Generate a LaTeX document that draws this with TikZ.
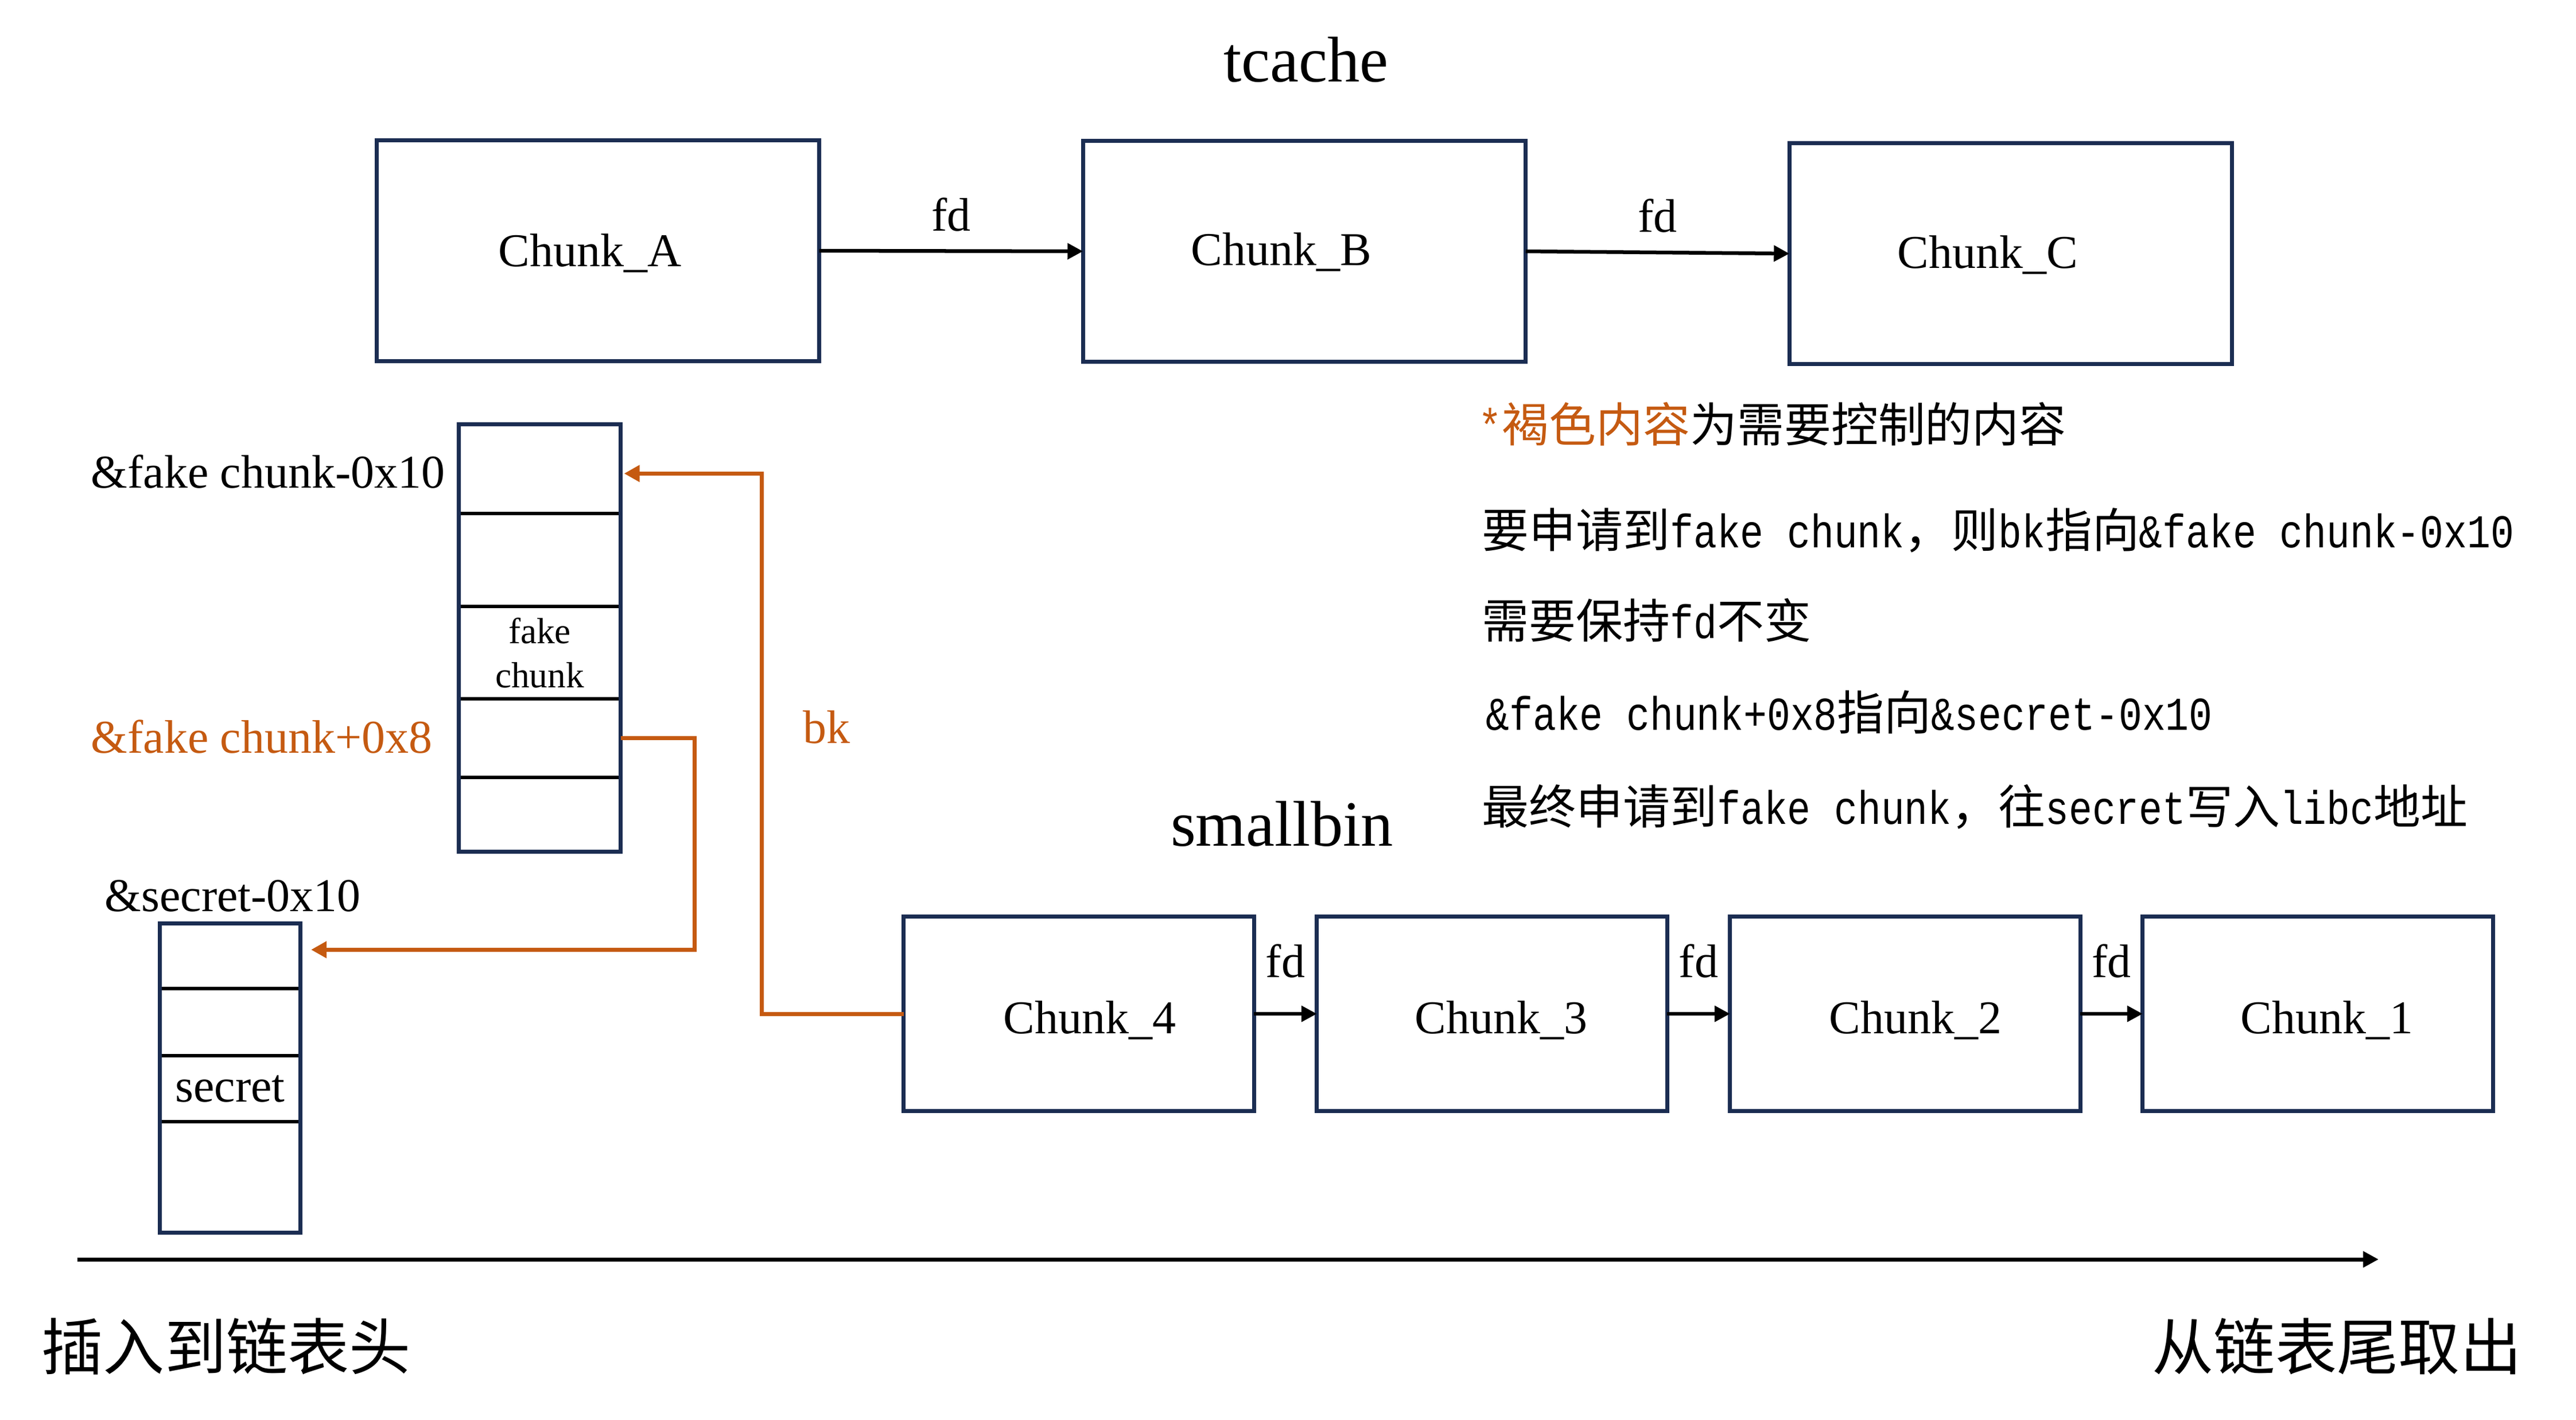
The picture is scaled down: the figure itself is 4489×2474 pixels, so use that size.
\documentclass[tikz,border=0pt]{standalone}
\usepackage{fontspec}
\setmainfont{Liberation Serif}
\newfontfamily\cjk{Noto Sans CJK SC}
\newfontfamily\hw{Liberation Mono}[FakeStretch=0.83]
\usetikzlibrary{arrows.meta,fit}
\definecolor{navy}{HTML}{1B2D52}
\definecolor{brn}{HTML}{C55A11}
\begin{document}
\begin{tikzpicture}[x=0.01cm,y=-0.01cm,
  lbl/.style={font=\fontsize{23.3}{28}\selectfont, inner sep=0},
  ttl/.style={font=\fontsize{32}{38}\selectfont, inner sep=0},
  chunkbox/.style={draw=navy, line width=0.07cm, inner sep=0, outer sep=0},
  bigchunk/.style={chunkbox, minimum width=7.71cm, minimum height=3.85cm},
  smallchunk/.style={chunkbox, minimum width=6.10cm, minimum height=3.38cm},
  chunktext/.style={lbl, anchor=base},
  cellA/.style={draw=black, line width=0.06cm, inner sep=0, outer sep=0, minimum width=2.82cm, anchor=north},
  cellS/.style={draw=black, line width=0.06cm, inner sep=0, outer sep=0, minimum width=2.45cm, anchor=north},
  framebox/.style={draw=navy, line width=0.07cm, inner sep=0, outer sep=0},
  arr/.style={line width=0.065cm, -{Triangle[length=0.27cm,width=0.27cm]}},
  oarr/.style={draw=brn, line width=0.07cm, -{Triangle[length=0.27cm,width=0.28cm]}},
  rt/.style={font=\cjk\fontsize{23.3}{28}\selectfont, anchor=west, inner sep=0},
  bt/.style={font=\cjk\fontsize{30.5}{36}\selectfont, anchor=west, inner sep=0},
  fdl/.style={lbl, midway, above=0.31cm}
]
\useasboundingbox (0,0) rectangle (4489,2474);

% titles
\node[ttl, anchor=base] (tcache) at (2276,142) {tcache};
\node[ttl, anchor=base] (smallbin) at (2234,1474) {smallbin};

% tcache chunks
\node[bigchunk] (A) at (1042,437) {};
\node[bigchunk] (B) at (2273,438) {};
\node[bigchunk] (C) at (3504,442) {};
\node[chunktext] (At) at (1028,464) {Chunk\_A};
\node[chunktext] (Bt) at (2233,462) {Chunk\_B};
\node[chunktext] (Ct) at (3464,467) {Chunk\_C};
\draw[arr] (A.east) -- node[fdl]{fd} (B.west);
\draw[arr] (B.east) -- node[fdl]{fd} (C.west);

% smallbin chunks
\node[smallchunk] (C4) at (1880,1767) {};
\node[smallchunk] (C3) at (2600,1767) {};
\node[smallchunk] (C2) at (3320,1767) {};
\node[smallchunk] (C1) at (4039,1767) {};
\node[chunktext] (C4t) at (1899,1801) {Chunk\_4};
\node[chunktext] (C3t) at (2616,1801) {Chunk\_3};
\node[chunktext] (C2t) at (3338,1801) {Chunk\_2};
\node[chunktext] (C1t) at (4055,1801) {Chunk\_1};
\draw[arr] (C4.east) -- node[fdl, above=0.28cm]{fd} (C3.west);
\draw[arr] (C3.east) -- node[fdl, above=0.28cm]{fd} (C2.west);
\draw[arr] (C2.east) -- node[fdl, above=0.28cm]{fd} (C1.west);

% fake chunk stack
\node[cellA, minimum height=1.555cm] (c0) at (940.5,739.5) {};
\node[cellA, minimum height=1.62cm] (c1) at (c0.south) {};
\node[cellA, minimum height=1.61cm, align=center, font=\fontsize{18}{21.9}\selectfont] (c2) at (c1.south) {fake\\chunk};
\node[cellA, minimum height=1.37cm] (c3) at (c2.south) {};
\node[cellA, minimum height=1.295cm] (c4) at (c3.south) {};
\node[framebox, fit=(c0)(c4)] (fakestack) {};

% secret stack
\node[cellS, minimum height=1.135cm] (s0) at (401,1609.5) {};
\node[cellS, minimum height=1.17cm] (s1) at (s0.south) {};
\node[cellS, minimum height=1.15cm, font=\fontsize{23.3}{28}\selectfont] (s2) at (s1.south) {secret};
\node[cellS, minimum height=1.935cm] (s3) at (s2.south) {};
\node[framebox, fit=(s0)(s3)] (secretstack) {};

% labels
\node[lbl, anchor=base west] (l1) at (158,850) {\&fake chunk-0x10};
\node[lbl, anchor=base west, text=brn] (l2) at (158,1312) {\&fake chunk+0x8};
\node[lbl, anchor=base west] (l3) at (182,1588) {\&secret-0x10};
\node[lbl, anchor=base west, text=brn] (bk) at (1399,1295) {bk};

% orange connectors
\draw[oarr] (C4.west) -- ++(-247,0) |- ([xshift=0.06cm,yshift=-0.08cm]c0.east);
\draw[oarr] (c3.east) -- ++(128.5,0) |- ([xshift=0.185cm,yshift=0.11cm]s0.east);

% right-hand notes
\node[rt] (n1) at (2576,739) {{\hw\color{brn}*}{\color{brn}褐色内容}为需要控制的内容};
\node[rt] (n2) at (2582,924) {要申请到{\hw fake chunk}，则{\hw bk}指向{\hw \&fake chunk-0x10}};
\node[rt] (n3) at (2582,1081) {需要保持{\hw fd}不变};
\node[rt] (n4) at (2589,1241) {{\hw \&fake chunk+0x8}指向{\hw \&secret-0x10}};
\node[rt] (n5) at (2582,1406) {最终申请到{\hw fake chunk}，往{\hw secret}写入{\hw libc}地址};

% bottom axis
\coordinate (ax0) at (135,2195);
\coordinate (ax1) at (4145,2195);
\draw[arr, line width=0.07cm] (ax0) -- (ax1);
\node[bt] (head) at (72,2347) {插入到链表头};
\node[bt] (tail) at (3750,2347) {从链表尾取出};
\end{tikzpicture}
\end{document}
